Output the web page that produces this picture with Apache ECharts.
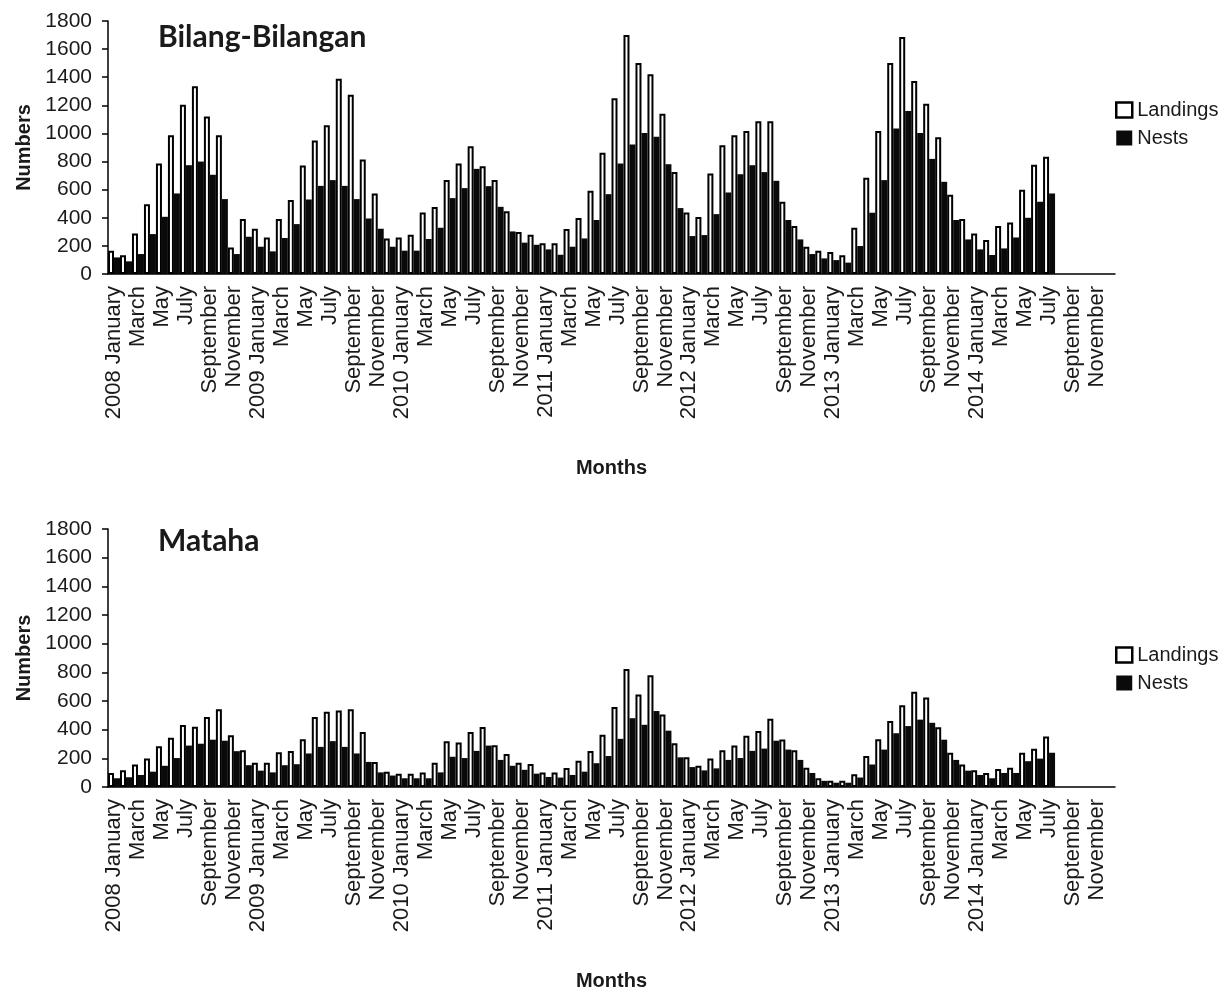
<!DOCTYPE html>
<html>
<head>
<meta charset="utf-8">
<script src="https://cdn.jsdelivr.net/npm/echarts@6/dist/echarts.min.js"></script>
<style>
html,body{margin:0;padding:0;background:#fff;}
#c{width:1218px;height:992px;}
</style>
</head>
<body>
<div id="c"></div>
<script>
const monthNames = ['January','February','March','April','May','June','July','August','September','October','November','December'];
const years = [2008, 2009, 2010, 2011, 2012, 2013, 2014];
const yTicks = { min: 0, max: 1800, interval: 200 };

// Bilang-Bilangan (2008 January .. 2014 July)
const bilangLandings = [
  166,133,289,497,786,987,1205,1336,1120,987,189,391,
  322,260,391,526,772,950,1058,1390,1276,815,573,253,
  260,279,438,476,668,786,909,767,668,447,298,279,
  218,218,320,398,592,862,1250,1700,1501,1421,1141,725,
  438,405,715,916,987,1018,1087,1087,514,341,194,166,
  156,133,329,684,1018,1501,1686,1373,1212,973,564,391,
  289,242,341,367,599,777,834
];
const bilangNests = [
  118,90,142,284,407,573,774,800,706,533,142,265,
  194,161,256,355,530,627,668,627,533,395,322,194,
  166,166,249,329,540,611,748,625,478,303,223,208,
  175,137,194,253,384,568,786,921,1004,976,781,469,
  270,277,426,580,710,774,725,663,384,246,142,111,
  99,81,199,436,668,1035,1160,1004,819,656,384,246,
  175,135,182,260,400,514,573
];
// Mataha
const matahaLandings = [
  98,116,157,198,284,343,432,420,489,543,361,257,
  170,170,243,252,334,489,525,534,543,384,175,107,
  93,93,102,170,320,311,384,418,291,230,170,161,
  102,102,132,184,252,364,559,823,646,780,505,305,
  207,148,198,257,289,357,391,477,332,257,134,61,
  43,43,89,216,334,461,570,664,625,416,239,157,
  116,98,125,134,239,266,352
];
const matahaNests = [
  61,68,84,107,148,202,289,302,330,323,250,152,
  114,102,152,159,234,280,320,280,234,175,102,80,
  61,61,61,102,211,202,252,289,189,148,120,93,
  70,66,84,107,166,216,336,480,434,530,393,207,
  139,116,130,189,202,252,268,323,261,189,98,43,
  30,30,66,157,261,375,425,470,448,330,189,114,
  84,61,98,98,180,198,239
];

const categories = [];
years.forEach(y => monthNames.forEach((m, i) => categories.push(i === 0 ? y + ' January' : m)));

const FONT = 'Liberation Sans, Arial, sans-serif';
const TXT = '#1a1a1a';

function xAxis(gridIndex) {
  return {
    type: 'category', gridIndex, data: categories, boundaryGap: true,
    axisLine: { lineStyle: { color: '#000', width: 1.5 } },
    axisTick: { interval: 0, length: 6, lineStyle: { color: '#000', width: 1.5 } },
    axisLabel: { interval: 1, rotate: 90, fontSize: 22, color: TXT, fontFamily: FONT, margin: 12 },
    name: 'Months', nameLocation: 'middle', nameGap: 184,
    nameTextStyle: { fontSize: 20, fontWeight: 'bold', color: TXT, fontFamily: FONT }
  };
}
function yAxis(gridIndex) {
  return {
    type: 'value', gridIndex, min: yTicks.min, max: yTicks.max, interval: yTicks.interval,
    axisLine: { show: true, lineStyle: { color: '#000', width: 1.5 } },
    axisTick: { show: true, length: 6, lineStyle: { color: '#000', width: 1.5 } },
    splitLine: { show: false },
    axisLabel: { fontSize: 21, color: TXT, fontFamily: FONT, margin: 16, formatter: v => String(v) },
    name: 'Numbers', nameLocation: 'middle', nameGap: 74,
    nameTextStyle: { fontSize: 20, fontWeight: 'bold', color: TXT, fontFamily: FONT }
  };
}
const landStyle = { color: '#fff', borderColor: '#000', borderWidth: 2 };
const nestStyle = { color: '#0a0a0a', borderColor: '#0a0a0a', borderWidth: 0 };
function bars(name, data, idx, style) {
  return { name, type: 'bar', xAxisIndex: idx, yAxisIndex: idx, data, itemStyle: style,
           barGap: '0%', barCategoryGap: '0%', animation: false };
}
function legend(top) {
  return {
    orient: 'vertical', left: 1110, top, itemWidth: 16, itemHeight: 15, itemGap: 8,
    textStyle: { fontSize: 20, color: TXT, fontFamily: FONT },
    data: [
      { name: 'Landings', icon: 'rect', itemStyle: { color: '#fff', borderColor: '#000', borderWidth: 2.5 } },
      { name: 'Nests', icon: 'rect', itemStyle: nestStyle }
    ]
  };
}

const chart = echarts.init(document.getElementById('c'));
chart.setOption({
  backgroundColor: '#fff',
  animation: false,
  title: [
    { text: 'Bilang-Bilangan', left: 158, top: 22, padding: 0,
      textStyle: { fontFamily: 'Lato, sans-serif', fontWeight: 'bold', fontSize: 30, color: TXT } },
    { text: 'Mataha', left: 158, top: 526, padding: 0,
      textStyle: { fontFamily: 'Lato, sans-serif', fontWeight: 'bold', fontSize: 30, color: TXT } }
  ],
  legend: [legend(95), legend(640)],
  grid: [
    { left: 108, right: 103, top: 21, height: 253 },
    { left: 108, right: 103, top: 529, height: 263 }
  ],
  xAxis: [xAxis(0), xAxis(1)],
  yAxis: [yAxis(0), yAxis(1)],
  series: [
    bars('Landings', bilangLandings, 0, landStyle),
    bars('Nests', bilangNests, 0, nestStyle),
    bars('Landings', matahaLandings, 1, landStyle),
    bars('Nests', matahaNests, 1, nestStyle)
  ]
});
</script>
</body>
</html>
